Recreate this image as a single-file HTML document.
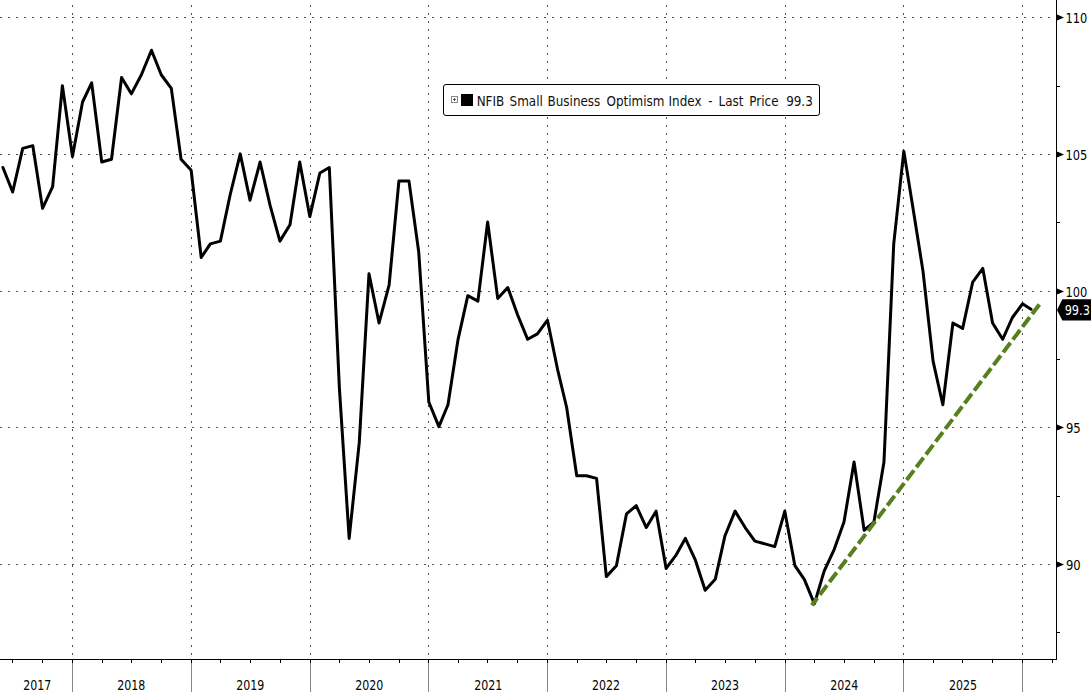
<!DOCTYPE html>
<html><head><meta charset="utf-8"><style>
html,body{margin:0;padding:0;background:#fff;}
svg{display:block;font-family:"DejaVu Sans Condensed","DejaVu Sans","Liberation Sans",sans-serif;}
</style></head><body>
<svg width="1091" height="692" viewBox="0 0 1091 692">
<rect width="1091" height="692" fill="#fff"/>
<line x1="0" y1="17.5" x2="1056" y2="17.5" stroke="#505050" stroke-width="1" stroke-dasharray="2 6"/>
<line x1="0" y1="154.5" x2="1056" y2="154.5" stroke="#505050" stroke-width="1" stroke-dasharray="2 6"/>
<line x1="0" y1="291.5" x2="1056" y2="291.5" stroke="#505050" stroke-width="1" stroke-dasharray="2 6"/>
<line x1="0" y1="427.5" x2="1056" y2="427.5" stroke="#505050" stroke-width="1" stroke-dasharray="2 6"/>
<line x1="0" y1="564.5" x2="1056" y2="564.5" stroke="#505050" stroke-width="1" stroke-dasharray="2 6"/>
<line x1="72.5" y1="5" x2="72.5" y2="659" stroke="#505050" stroke-width="1" stroke-dasharray="2 6"/>
<line x1="191.5" y1="5" x2="191.5" y2="659" stroke="#505050" stroke-width="1" stroke-dasharray="2 6"/>
<line x1="310.5" y1="5" x2="310.5" y2="659" stroke="#505050" stroke-width="1" stroke-dasharray="2 6"/>
<line x1="428.5" y1="5" x2="428.5" y2="659" stroke="#505050" stroke-width="1" stroke-dasharray="2 6"/>
<line x1="547.5" y1="5" x2="547.5" y2="659" stroke="#505050" stroke-width="1" stroke-dasharray="2 6"/>
<line x1="666.5" y1="5" x2="666.5" y2="659" stroke="#505050" stroke-width="1" stroke-dasharray="2 6"/>
<line x1="785.5" y1="5" x2="785.5" y2="659" stroke="#505050" stroke-width="1" stroke-dasharray="2 6"/>
<line x1="903.5" y1="5" x2="903.5" y2="659" stroke="#505050" stroke-width="1" stroke-dasharray="2 6"/>
<line x1="1022.5" y1="5" x2="1022.5" y2="659" stroke="#505050" stroke-width="1" stroke-dasharray="2 6"/>
<path d="M2.90,167.48 L12.65,192.03 L22.73,148.39 L32.81,145.66 L42.56,208.39 L52.64,186.58 L62.40,85.66 L72.47,156.57 L82.55,102.02 L91.66,82.93 L101.74,162.03 L111.49,159.30 L121.57,77.48 L131.32,93.84 L141.40,74.75 L151.48,50.20 L161.23,74.75 L171.31,88.38 L181.06,159.30 L191.14,170.21 L201.22,257.49 L210.33,243.85 L220.40,241.13 L230.16,194.76 L240.24,153.84 L249.99,200.21 L260.07,162.03 L270.15,205.67 L279.90,241.13 L289.98,224.76 L299.73,162.03 L309.81,216.58 L319.89,172.94 L329.32,167.48 L339.40,388.41 L349.15,538.42 L359.23,442.96 L368.98,273.86 L379.06,322.95 L389.14,284.76 L398.90,181.12 L408.97,181.12 L418.73,252.03 L428.81,402.05 L438.89,426.60 L447.99,404.78 L458.07,339.31 L467.82,295.68 L477.90,301.13 L487.65,222.03 L497.73,298.40 L507.81,287.49 L517.56,314.77 L527.64,339.31 L537.40,333.86 L547.48,320.22 L557.55,369.32 L566.66,407.50 L576.74,475.69 L586.49,475.69 L596.57,478.42 L606.32,576.61 L616.40,565.70 L626.48,513.88 L636.23,505.69 L646.31,527.51 L656.07,511.15 L666.14,568.43 L676.22,554.79 L685.33,538.42 L695.40,560.24 L705.16,590.25 L715.24,579.33 L724.99,535.70 L735.07,511.15 L745.15,527.51 L754.90,541.15 L764.98,543.88 L774.73,546.61 L784.81,511.15 L794.89,565.70 L804.32,579.33 L814.40,603.88 L824.15,571.15 L834.23,549.33 L843.98,522.06 L854.06,462.05 L864.14,530.24 L873.90,522.06 L883.97,462.05 L893.73,243.85 L903.81,151.12 L913.89,213.85 L922.99,271.13 L933.07,361.13 L942.82,404.78 L952.90,322.95 L962.65,328.41 L972.73,282.04 L982.81,268.40 L992.56,322.95 L1002.64,339.31 L1012.40,317.50 L1022.48,303.86 L1031.00,309.31" fill="none" stroke="#000" stroke-width="3" stroke-linejoin="round" stroke-linecap="round"/>
<line x1="1039.4" y1="304.5" x2="811.8" y2="605.3" stroke="#587f1e" stroke-width="4" stroke-dasharray="12 4"/>
<line x1="0" y1="659.5" x2="1056" y2="659.5" stroke="#000" stroke-width="1"/>
<line x1="1056.5" y1="0" x2="1056.5" y2="660" stroke="#000" stroke-width="1"/>
<line x1="72.5" y1="660" x2="72.5" y2="692" stroke="#888" stroke-width="1"/>
<line x1="72.5" y1="660" x2="72.5" y2="663" stroke="#000" stroke-width="1"/>
<line x1="191.5" y1="660" x2="191.5" y2="692" stroke="#888" stroke-width="1"/>
<line x1="191.5" y1="660" x2="191.5" y2="663" stroke="#000" stroke-width="1"/>
<line x1="310.5" y1="660" x2="310.5" y2="692" stroke="#888" stroke-width="1"/>
<line x1="310.5" y1="660" x2="310.5" y2="663" stroke="#000" stroke-width="1"/>
<line x1="428.5" y1="660" x2="428.5" y2="692" stroke="#888" stroke-width="1"/>
<line x1="428.5" y1="660" x2="428.5" y2="663" stroke="#000" stroke-width="1"/>
<line x1="547.5" y1="660" x2="547.5" y2="692" stroke="#888" stroke-width="1"/>
<line x1="547.5" y1="660" x2="547.5" y2="663" stroke="#000" stroke-width="1"/>
<line x1="666.5" y1="660" x2="666.5" y2="692" stroke="#888" stroke-width="1"/>
<line x1="666.5" y1="660" x2="666.5" y2="663" stroke="#000" stroke-width="1"/>
<line x1="785.5" y1="660" x2="785.5" y2="692" stroke="#888" stroke-width="1"/>
<line x1="785.5" y1="660" x2="785.5" y2="663" stroke="#000" stroke-width="1"/>
<line x1="903.5" y1="660" x2="903.5" y2="692" stroke="#888" stroke-width="1"/>
<line x1="903.5" y1="660" x2="903.5" y2="663" stroke="#000" stroke-width="1"/>
<line x1="1022.5" y1="660" x2="1022.5" y2="692" stroke="#888" stroke-width="1"/>
<line x1="1022.5" y1="660" x2="1022.5" y2="663" stroke="#000" stroke-width="1"/>
<line x1="12.5" y1="660" x2="12.5" y2="663" stroke="#000" stroke-width="1"/>
<line x1="42.5" y1="660" x2="42.5" y2="663" stroke="#000" stroke-width="1"/>
<line x1="102.5" y1="660" x2="102.5" y2="663" stroke="#000" stroke-width="1"/>
<line x1="131.5" y1="660" x2="131.5" y2="663" stroke="#000" stroke-width="1"/>
<line x1="161.5" y1="660" x2="161.5" y2="663" stroke="#000" stroke-width="1"/>
<line x1="220.5" y1="660" x2="220.5" y2="663" stroke="#000" stroke-width="1"/>
<line x1="250.5" y1="660" x2="250.5" y2="663" stroke="#000" stroke-width="1"/>
<line x1="280.5" y1="660" x2="280.5" y2="663" stroke="#000" stroke-width="1"/>
<line x1="339.5" y1="660" x2="339.5" y2="663" stroke="#000" stroke-width="1"/>
<line x1="369.5" y1="660" x2="369.5" y2="663" stroke="#000" stroke-width="1"/>
<line x1="399.5" y1="660" x2="399.5" y2="663" stroke="#000" stroke-width="1"/>
<line x1="458.5" y1="660" x2="458.5" y2="663" stroke="#000" stroke-width="1"/>
<line x1="487.5" y1="660" x2="487.5" y2="663" stroke="#000" stroke-width="1"/>
<line x1="517.5" y1="660" x2="517.5" y2="663" stroke="#000" stroke-width="1"/>
<line x1="577.5" y1="660" x2="577.5" y2="663" stroke="#000" stroke-width="1"/>
<line x1="606.5" y1="660" x2="606.5" y2="663" stroke="#000" stroke-width="1"/>
<line x1="636.5" y1="660" x2="636.5" y2="663" stroke="#000" stroke-width="1"/>
<line x1="695.5" y1="660" x2="695.5" y2="663" stroke="#000" stroke-width="1"/>
<line x1="725.5" y1="660" x2="725.5" y2="663" stroke="#000" stroke-width="1"/>
<line x1="755.5" y1="660" x2="755.5" y2="663" stroke="#000" stroke-width="1"/>
<line x1="814.5" y1="660" x2="814.5" y2="663" stroke="#000" stroke-width="1"/>
<line x1="844.5" y1="660" x2="844.5" y2="663" stroke="#000" stroke-width="1"/>
<line x1="874.5" y1="660" x2="874.5" y2="663" stroke="#000" stroke-width="1"/>
<line x1="933.5" y1="660" x2="933.5" y2="663" stroke="#000" stroke-width="1"/>
<line x1="962.5" y1="660" x2="962.5" y2="663" stroke="#000" stroke-width="1"/>
<line x1="992.5" y1="660" x2="992.5" y2="663" stroke="#000" stroke-width="1"/>
<line x1="1052.5" y1="660" x2="1052.5" y2="663" stroke="#000" stroke-width="1"/>
<polygon points="1057,14.5 1064,17.5 1057,20.5" fill="#000"/>
<polygon points="1057,151.5 1064,154.5 1057,157.5" fill="#000"/>
<polygon points="1057,288.5 1064,291.5 1057,294.5" fill="#000"/>
<polygon points="1057,424.5 1064,427.5 1057,430.5" fill="#000"/>
<polygon points="1057,561.5 1064,564.5 1057,567.5" fill="#000"/>
<line x1="1057" y1="86.5" x2="1060" y2="86.5" stroke="#000" stroke-width="1"/>
<line x1="1057" y1="222.5" x2="1060" y2="222.5" stroke="#000" stroke-width="1"/>
<line x1="1057" y1="359.5" x2="1060" y2="359.5" stroke="#000" stroke-width="1"/>
<line x1="1057" y1="496.5" x2="1060" y2="496.5" stroke="#000" stroke-width="1"/>
<line x1="1057" y1="632.5" x2="1060" y2="632.5" stroke="#000" stroke-width="1"/>
<text x="1065.45" y="22.8" font-size="13.3" textLength="21.77" lengthAdjust="spacingAndGlyphs">110</text>
<text x="1065.45" y="159.8" font-size="13.3" textLength="21.77" lengthAdjust="spacingAndGlyphs">105</text>
<text x="1065.45" y="296.8" font-size="13.3" textLength="21.77" lengthAdjust="spacingAndGlyphs">100</text>
<text x="1065.95" y="432.8" font-size="13.3" textLength="14.82" lengthAdjust="spacingAndGlyphs">95</text>
<text x="1065.95" y="569.8" font-size="13.3" textLength="14.82" lengthAdjust="spacingAndGlyphs">90</text>
<text x="37.2" y="689.9" font-size="13.3" text-anchor="middle" textLength="28.1" lengthAdjust="spacingAndGlyphs">2017</text>
<text x="131.2" y="689.9" font-size="13.3" text-anchor="middle" textLength="28.1" lengthAdjust="spacingAndGlyphs">2018</text>
<text x="250.2" y="689.9" font-size="13.3" text-anchor="middle" textLength="28.1" lengthAdjust="spacingAndGlyphs">2019</text>
<text x="369.3" y="689.9" font-size="13.3" text-anchor="middle" textLength="28.1" lengthAdjust="spacingAndGlyphs">2020</text>
<text x="488.2" y="689.9" font-size="13.3" text-anchor="middle" textLength="28.1" lengthAdjust="spacingAndGlyphs">2021</text>
<text x="606.0" y="689.9" font-size="13.3" text-anchor="middle" textLength="28.1" lengthAdjust="spacingAndGlyphs">2022</text>
<text x="725.1" y="689.9" font-size="13.3" text-anchor="middle" textLength="28.1" lengthAdjust="spacingAndGlyphs">2023</text>
<text x="844.3" y="689.9" font-size="13.3" text-anchor="middle" textLength="28.1" lengthAdjust="spacingAndGlyphs">2024</text>
<text x="963.1" y="689.9" font-size="13.3" text-anchor="middle" textLength="28.1" lengthAdjust="spacingAndGlyphs">2025</text>
<polygon points="1057,310 1062.4,299.2 1091,299.2 1091,320.6 1062.4,320.6" fill="#000"/>
<text x="1064.65" y="315" font-size="13.3" fill="#fff" textLength="25.3" lengthAdjust="spacingAndGlyphs">99.3</text>
<rect x="443.5" y="84.5" width="376" height="31" rx="2.5" ry="2.5" fill="#fff" stroke="#000" stroke-width="1"/>
<rect x="451.5" y="96.5" width="6" height="6" fill="#fff" stroke="#888" stroke-width="1"/>
<line x1="453" y1="99.5" x2="456" y2="99.5" stroke="#555" stroke-width="1"/>
<line x1="454.5" y1="98" x2="454.5" y2="101" stroke="#555" stroke-width="1"/>
<rect x="461" y="94" width="12" height="12" fill="#000"/>
<text y="105.75" font-size="13.3" fill="#111"><tspan x="476.65">NFIB</tspan><tspan x="509.55">Small</tspan><tspan x="547.55">Business</tspan><tspan x="606.55">Optimism</tspan><tspan x="668.55">Index</tspan><tspan x="708.30">-</tspan><tspan x="718.55">Last</tspan><tspan x="749.35">Price</tspan><tspan x="786.15">99.3</tspan></text>
</svg>
</body></html>
